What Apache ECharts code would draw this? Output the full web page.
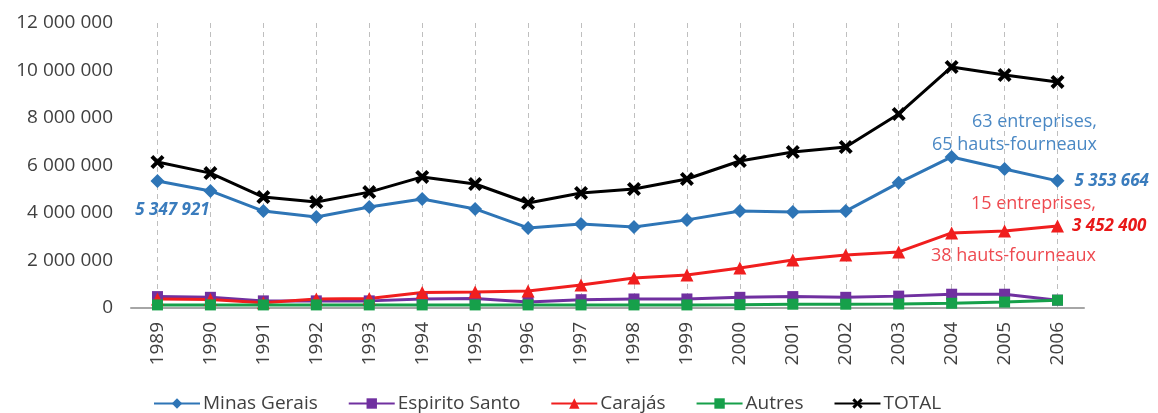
<!DOCTYPE html>
<html>
<head>
<meta charset="utf-8">
<title>Production de fonte</title>
<script src="https://cdn.jsdelivr.net/npm/echarts@6/dist/echarts.min.js"></script>
<style>
  html, body { margin: 0; padding: 0; background: #fff; }
  #chart { width: 1158px; height: 413px; }
</style>
</head>
<body>
<div id="chart"></div>
<script>
// années
const years = ['1989', '1990', '1991', '1992', '1993', '1994', '1995', '1996', '1997',
  '1998', '1999', '2000', '2001', '2002', '2003', '2004', '2005', '2006']

// production par région (tonnes)
const minasGerais = [5347921, 4930000, 4080000, 3830000, 4250000, 4590000, 4170000, 3370000, 3540000,
  3410000, 3710000, 4080000, 4040000, 4080000, 5270000, 6360000, 5850000, 5353664]
const espiritoSanto = [480000, 450000, 300000, 300000, 300000, 380000, 400000, 250000, 350000,
  380000, 380000, 450000, 480000, 450000, 500000, 580000, 580000, 330000]
const carajas = [380000, 360000, 220000, 380000, 400000, 650000, 670000, 720000, 970000,
  1260000, 1390000, 1680000, 2020000, 2230000, 2360000, 3160000, 3240000, 3452400]
const autres = [130000, 130000, 130000, 130000, 130000, 130000, 130000, 130000, 130000,
  130000, 130000, 140000, 160000, 160000, 170000, 200000, 250000, 330000]
const total = [6150000, 5680000, 4670000, 4460000, 4880000, 5520000, 5220000, 4420000, 4840000,
  5010000, 5430000, 6190000, 6570000, 6780000, 8170000, 10150000, 9810000, 9520000]

const seriesNames = ['Minas Gerais', 'Espirito Santo', 'Carajás', 'Autres', 'TOTAL']

const FONT = '"Open Sans", "DejaVu Sans", sans-serif'
const BLUE = '#2E75B6'
const RED = '#F01E1E'

// séparateur de milliers : espace
const fmt = (v) => String(v).replace(/\B(?=(\d{3})+(?!\d))/g, ' ')

const xMark = 'path://M0,2 L2,0 L5,3 L8,0 L10,2 L7,5 L10,8 L8,10 L5,7 L2,10 L0,8 L3,5 Z'

const numLabel = (color) => ({
  show: true,
  color: color,
  fontFamily: FONT,
  fontSize: 17,
  fontStyle: 'italic',
  fontWeight: 'bold',
  formatter: (p) => fmt(p.value)
})

// libellés de la première / dernière valeur
const minasData = minasGerais.map((v, i) => {
  if (i === 0) return { value: v, label: { ...numLabel('#3A7CBD'), position: 'inside', offset: [15, 29] } }
  if (i === minasGerais.length - 1) return { value: v, label: { ...numLabel('#3A7CBD'), position: 'right', distance: 10 } }
  return v
})
const carajasData = carajas.map((v, i) => {
  if (i === carajas.length - 1) return { value: v, label: { ...numLabel('#E81818'), position: 'right', distance: 8 } }
  return v
})

const chart = echarts.init(document.getElementById('chart'))

const lineSeries = (name, data, color, symbol, size) => ({
  name: name,
  type: 'line',
  data: data,
  symbol: symbol,
  symbolSize: size,
  showAllSymbol: true,
  lineStyle: { color: color, width: 3 },
  itemStyle: { color: color },
  emphasis: { disabled: true },
  z: 3
})

const option = {
  animation: false,
  textStyle: { fontFamily: FONT },
  grid: { left: 131, right: 74, top: 23, bottom: 105 },
  legend: {
    left: 148,
    top: 389,
    itemWidth: 46,
    itemHeight: 13,
    itemGap: 30,
    data: seriesNames,
    textStyle: { fontFamily: FONT, fontSize: 19, color: '#404040', padding: [0, 0, 0, -2] }
  },
  xAxis: {
    type: 'category',
    data: years,
    boundaryGap: true,
    axisLine: { lineStyle: { color: '#A6A6A6', width: 2 } },
    axisTick: { show: false },
    axisLabel: { rotate: 90, fontFamily: FONT, fontSize: 19, color: '#404040', margin: 14, interval: 0 },
    splitLine: { show: true, alignWithLabel: true, lineStyle: { color: '#BFBFBF', type: [5, 4], width: 1 } }
  },
  yAxis: {
    type: 'value',
    min: 0,
    max: 12000000,
    interval: 2000000,
    axisLine: { show: false },
    axisTick: { show: false },
    splitLine: { show: false },
    axisLabel: { fontFamily: FONT, fontSize: 19, color: '#404040', margin: 18, formatter: fmt }
  },
  graphic: [
    { type: 'text', right: 61, top: 113, style: { text: '63 entreprises,', fill: '#4A88C4', font: '18px ' + FONT, textAlign: 'right' } },
    { type: 'text', right: 61, top: 136, style: { text: '65 hauts-fourneaux', fill: '#4A88C4', font: '18px ' + FONT, textAlign: 'right' } },
    { type: 'text', right: 62, top: 195, style: { text: '15 entreprises,', fill: '#EE4A50', font: '18px ' + FONT, textAlign: 'right' } },
    { type: 'text', right: 62, top: 247, style: { text: '38 hauts-fourneaux', fill: '#EE4A50', font: '18px ' + FONT, textAlign: 'right' } }
  ],
  series: [
    lineSeries('Minas Gerais', minasData, BLUE, 'diamond', 14),
    lineSeries('Espirito Santo', espiritoSanto, '#7030A0', 'rect', 11),
    lineSeries('Carajás', carajasData, RED, 'triangle', 13),
    lineSeries('Autres', autres, '#16A04A', 'rect', 11),
    lineSeries('TOTAL', total, '#000000', xMark, 14)
  ]
}

chart.setOption(option)
</script>
</body>
</html>
